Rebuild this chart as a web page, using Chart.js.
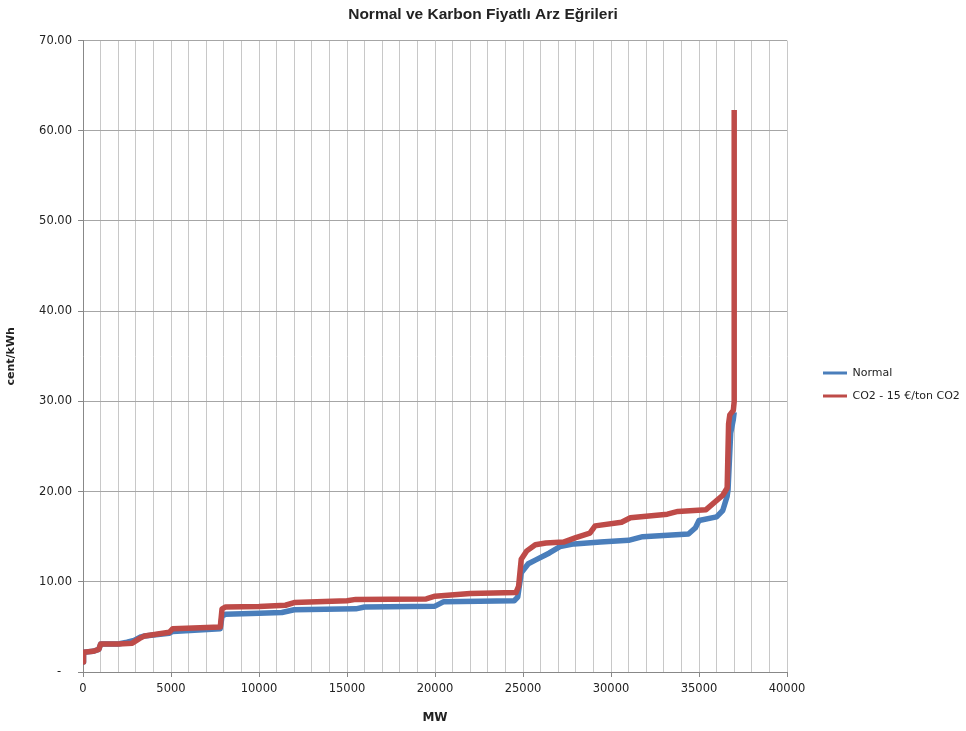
<!DOCTYPE html>
<html>
<head>
<meta charset="utf-8">
<script src="https://cdn.jsdelivr.net/npm/chart.js@4"></script>
<style>
  html, body { margin: 0; padding: 0; background: #fff; }
  #box { width: 966px; height: 731px; }
</style>
</head>
<body>
<div id="box"><canvas id="plotGraph"></canvas></div>
<script>
// 値
const normalMW = [0, 30, 570, 900, 1000, 2000, 2500, 2900, 3300, 3500, 4900, 5100, 7800, 7900, 8100, 10000, 11300, 12000, 15500, 16000, 20000, 20500, 24500, 24700, 24900, 25300, 25700, 26500, 27100, 27900, 29400, 31000, 31800, 34400, 34800, 35000, 36000, 36350, 36600, 36650, 36800, 36950, 37000]
const normalPrice = [1.1, 2.2, 2.3, 2.5, 3.1, 3.1, 3.3, 3.5, 3.9, 4.0, 4.3, 4.5, 4.8, 6.2, 6.4, 6.5, 6.6, 6.9, 7.0, 7.2, 7.3, 7.8, 7.9, 8.3, 11.0, 12.0, 12.4, 13.2, 13.9, 14.2, 14.4, 14.6, 15.0, 15.3, 16.0, 16.8, 17.2, 17.9, 19.5, 20.2, 26.5, 28.0, 28.8]

const co2MW = [0, 30, 570, 900, 1000, 2000, 2800, 3200, 3500, 4900, 5100, 7800, 7900, 8100, 10000, 11500, 12000, 15000, 15500, 19500, 20000, 22000, 24600, 24750, 24900, 25200, 25700, 26300, 27300, 28000, 28800, 29100, 30600, 31100, 33200, 33800, 35400, 36350, 36600, 36680, 36750, 36950, 37000, 37000]
const co2Price = [1.1, 2.2, 2.3, 2.5, 3.1, 3.1, 3.2, 3.7, 4.0, 4.4, 4.8, 5.0, 7.0, 7.2, 7.25, 7.4, 7.7, 7.9, 8.05, 8.1, 8.4, 8.7, 8.8, 9.5, 12.5, 13.4, 14.1, 14.3, 14.4, 14.9, 15.4, 16.2, 16.6, 17.1, 17.5, 17.8, 18.0, 19.6, 20.4, 27.5, 28.5, 29.0, 30.0, 62.3]

const seriesNames = ["Normal", "CO2 - 15 €/ton CO2"]
const chartTitle = "Normal ve Karbon Fiyatlı Arz Eğrileri"
const xTitle = "MW"
const yTitle = "cent/kWh"

const tickFont = { family: "'DejaVu Sans', sans-serif", size: 11.5 }
const textColor = "#222"

// 凡例の幅を固定して、少し右下へずらす
const legendShift = {
  id: "legendShift",
  beforeLayout(chart) {
    const lg = chart.legend
    if (lg && !lg._fixedWidth) {
      const fit = lg.fit
      lg.fit = function () {
        fit.call(this)
        this.width = 179
      }
      lg._fixedWidth = true
    }
  },
  afterLayout(chart) {
    chart.legend.left += 24
    chart.legend.right += 24
    chart.legend.top += 19
    chart.legend.bottom += 19
  }
}

let mainChartObj
function drawGraph() {
  let mainData = {
    datasets: [
      {
        label: seriesNames[0],
        data: normalMW.map((x, i) => ({ x: x, y: normalPrice[i] })),
        borderColor: "#4a7ebb",
        backgroundColor: "#4a7ebb",
        borderWidth: 5.5,
        pointRadius: 0,
        fill: false,
        tension: 0,
        borderJoinStyle: "round",
        order: 2
      }, {
        label: seriesNames[1],
        data: co2MW.map((x, i) => ({ x: x, y: co2Price[i] })),
        borderColor: "#be4b48",
        backgroundColor: "#be4b48",
        borderWidth: 5.5,
        pointRadius: 0,
        fill: false,
        tension: 0,
        borderJoinStyle: "round",
        order: 1
      }
    ]
  }

  let mainOptions = {
    responsive: true,
    maintainAspectRatio: false,
    animation: false,
    layout: { padding: { left: 0, right: 0, top: 0, bottom: 0 } },
    plugins: {
      tooltip: { enabled: false },
      title: {
        display: true,
        text: chartTitle,
        color: textColor,
        font: { family: "'Liberation Sans Narrow', 'Liberation Sans', sans-serif", size: 15.5, weight: "bold" },
        padding: { top: 5, bottom: 17 }
      },
      legend: {
        position: "right",
        align: "center",
        labels: {
          color: textColor,
          font: { family: "'DejaVu Sans', sans-serif", size: 11 },
          boxWidth: 24,
          boxHeight: 3,
          padding: 12,
          sort: (a, b) => a.datasetIndex - b.datasetIndex,
          generateLabels: chart => Chart.defaults.plugins.legend.labels.generateLabels(chart).map(it => ({ ...it, lineWidth: 0 }))
        }
      }
    },
    scales: {
      x: {
        type: "linear",
        min: 0,
        max: 40000,
        afterFit: scale => { scale.height = 59 },
        title: {
          display: true,
          text: xTitle,
          color: textColor,
          font: { family: "'DejaVu Sans', sans-serif", size: 12, weight: "bold" },
          padding: { top: 0, bottom: 6 }
        },
        ticks: {
          stepSize: 1000,
          autoSkip: false,
          maxRotation: 0,
          minRotation: 0,
          padding: 5,
          color: textColor,
          font: tickFont,
          callback: v => (v % 5000 === 0 ? String(v) : "")
        },
        grid: {
          color: "#c8c8c8",
          tickLength: 5,
          tickColor: c => (c.tick && c.tick.value % 5000 === 0 ? "#888" : "rgba(0,0,0,0)")
        },
        border: { color: "#888" }
      },
      y: {
        min: 0,
        max: 70,
        afterFit: scale => { scale.width = 83 },
        title: {
          display: true,
          text: yTitle,
          color: textColor,
          font: { family: "'DejaVu Sans', sans-serif", size: 11, weight: "bold" },
          padding: { top: 5, bottom: 0 }
        },
        ticks: {
          stepSize: 10,
          padding: 6,
          color: textColor,
          font: tickFont,
          callback: v => (v === 0 ? "-   " : v.toFixed(2))
        },
        grid: {
          color: "#a6a6a6",
          tickLength: 5,
          tickColor: "#888"
        },
        border: { color: "#888" }
      }
    }
  }

  let mainCtx = document.getElementById("plotGraph")
  mainChartObj = new Chart(mainCtx, {
    type: "line",
    data: mainData,
    options: mainOptions,
    plugins: [legendShift]
  })
}

drawGraph()
</script>
</body>
</html>
